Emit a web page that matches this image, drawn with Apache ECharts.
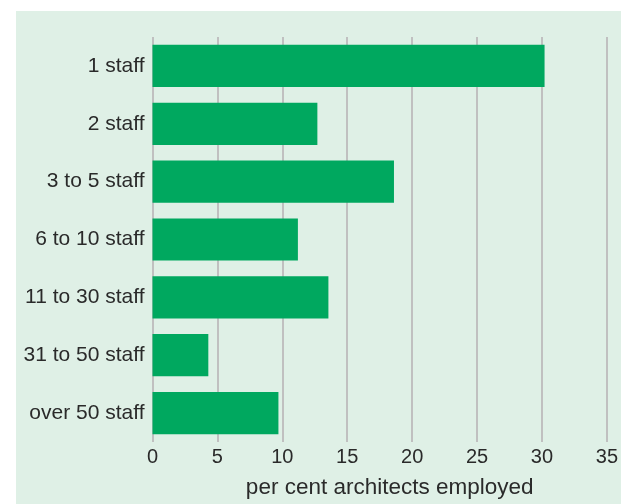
<!DOCTYPE html>
<html>
<head>
<meta charset="utf-8">
<script src="https://cdn.jsdelivr.net/npm/echarts@6/dist/echarts.min.js"></script>
<style>
html,body{margin:0;padding:0;background:#ffffff;width:621px;height:504px;overflow:hidden;}
#chart{position:absolute;left:16px;top:11px;width:605px;height:493px;background:#dff0e6;}
</style>
</head>
<body>
<div id="chart"></div>
<script>
const categories = ['1 staff', '2 staff', '3 to 5 staff', '6 to 10 staff', '11 to 30 staff', '31 to 50 staff', 'over 50 staff'];
const values = [30.2, 12.7, 18.6, 11.2, 13.55, 4.3, 9.7];
const axisName = 'per cent architects employed';
const xMin = 0, xMax = 35, xStep = 5;

const chart = echarts.init(document.getElementById('chart'), null, {renderer: 'canvas'});
chart.setOption({
  animation: false,
  backgroundColor: 'transparent',
  textStyle: {fontFamily: 'Liberation Sans, Arial, sans-serif'},
  grid: {left: 136.5, right: 13, top: 26, bottom: 59.5, containLabel: false},
  xAxis: {
    type: 'value', min: xMin, max: xMax, interval: xStep,
    axisLine: {show: false}, axisTick: {show: false},
    splitLine: {show: true, lineStyle: {color: '#c0c0c0', width: 2}},
    axisLabel: {fontSize: 20, color: '#2a2a2a', margin: 5},
    name: axisName, nameLocation: 'middle', nameGap: 34,
    nameTextStyle: {fontSize: 22.5, color: '#2a2a2a', padding: [0, 0, 0, 20]}
  },
  yAxis: {
    type: 'category', data: categories, inverse: true,
    axisLine: {show: false}, axisTick: {show: false},
    axisLabel: {fontSize: 21, color: '#2a2a2a', margin: 8}
  },
  series: [{
    type: 'bar', data: values, barCategoryGap: '27%',
    itemStyle: {color: '#00a85f'}
  }]
});
</script>
</body>
</html>
